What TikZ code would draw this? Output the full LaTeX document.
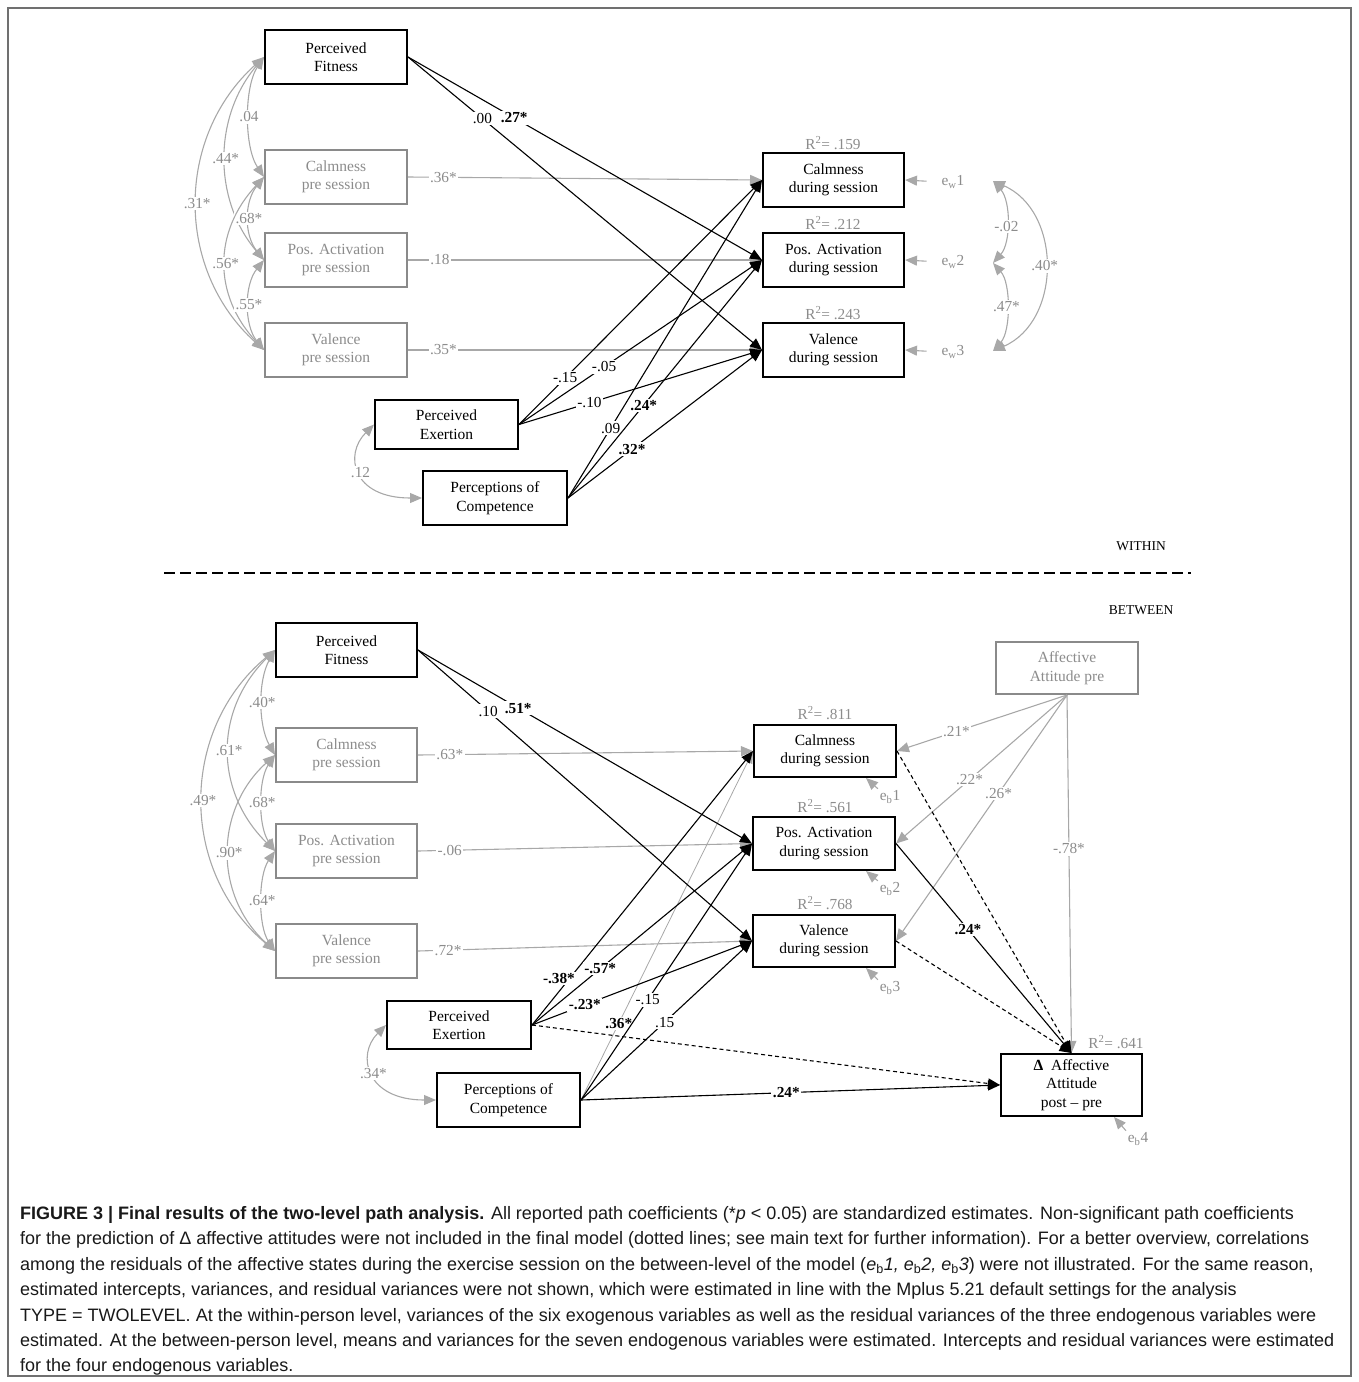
\documentclass[tikz,border=0pt]{standalone}
\usepackage{fontspec}
\setmainfont{Liberation Serif}
\newfontfamily\capfont{Liberation Sans}
\usetikzlibrary{arrows.meta}
\definecolor{gtext}{HTML}{8C8C8C}
\definecolor{gline}{HTML}{A8A8A8}
\definecolor{gbox}{HTML}{8A8A8A}
\definecolor{framec}{HTML}{707070}
\newcommand{\bxfont}{\fontsize{15.5}{18.5}\selectfont}
\newcommand{\lbfont}{\fontsize{15.3}{16}\selectfont}
\newcommand{\cpfont}{\capfont\fontsize{18}{20}\selectfont}
\tikzset{
  bbox/.style={draw=black, line width=2pt, fill=white, align=center, inner sep=0pt, font=\bxfont, text=black},
  gbx/.style={bbox, draw=gbox, text=gtext},
  sz/.style 2 args={minimum width=#1, minimum height=#2},
  blk/.style={draw=black, line width=1.1pt, -{Triangle[length=12pt,width=10pt]}},
  gry/.style={draw=gline, line width=1.1pt, -{Triangle[length=12pt,width=10pt]}},
  cor/.style={draw=gline, line width=1.1pt, {Triangle[length=12pt,width=10pt]}-{Triangle[length=12pt,width=10pt]}},
  dsh/.style={blk, dash pattern=on 4pt off 3pt},
  lbl/.style={fill=white, inner sep=1.5pt, font=\lbfont, text=black},
  glbl/.style={lbl, text=gtext},
  blbl/.style={lbl, font=\lbfont\bfseries},
  etxt/.style={font=\lbfont, text=gtext, inner sep=1pt},
  captxt/.style={font=\cpfont, text=black!90, inner sep=0pt, anchor=base west},
  lvl/.style={font=\fontsize{13.5}{15}\selectfont, text=black}
}
\begin{document}
\begin{tikzpicture}[x=1pt,y=-1pt]
\useasboundingbox (0,0) rectangle (1358,1382);
\draw[framec, line width=1.5pt] (8,8) rectangle (1351,1376);

% ================= WITHIN =================
\node[bbox, sz={142}{54}] (pf1) at (336,57) {Perceived\\Fitness};
\node[gbx, sz={142}{54}] (cp1) at (336,177) {Calmness\\pre session};
\node[gbx, sz={142}{54}] (ap1) at (336,260) {Pos. Activation\\pre session};
\node[gbx, sz={142}{54}] (vp1) at (336,350) {Valence\\pre session};
\node[bbox, sz={141}{54}] (cd1) at (833.5,180) {Calmness\\during session};
\node[bbox, sz={141}{54}] (ad1) at (833.5,260) {Pos. Activation\\during session};
\node[bbox, sz={141}{54}] (vd1) at (833.5,350) {Valence\\during session};
\node[bbox, sz={143}{49}] (ex1) at (446.5,424.5) {Perceived\\Exertion};
\node[bbox, sz={144}{54}] (co1) at (495,498) {Perceptions of\\Competence};

\node[etxt] (r1a) at (833,143) {R\textsuperscript{2}= .159};
\node[etxt] (r1b) at (833,223) {R\textsuperscript{2}= .212};
\node[etxt] (r1c) at (833,313) {R\textsuperscript{2}= .243};

\node[etxt] (ew1) at (953,182) {e\textsubscript{w}1};
\node[etxt] (ew2) at (953,262) {e\textsubscript{w}2};
\node[etxt] (ew3) at (953,352) {e\textsubscript{w}3};
\coordinate (ew1r) at (993,181);
\coordinate (ew2r) at (993,263);
\coordinate (ew3r) at (993,351);

% correlations among exogenous (within)
\draw[cor] (pf1.west) .. controls +(-20,30) and +(-20,-30) .. node[glbl,pos=.5]{.04} (cp1.west);
\draw[cor] (pf1.west) .. controls +(-51,60) and +(-51,-60) .. node[glbl,pos=.5]{.44*} (ap1.west);
\draw[cor] (pf1.west) .. controls +(-89,80) and +(-89,-80) .. node[glbl,pos=.5]{.31*} (vp1.west);
\draw[cor] (cp1.west) .. controls +(-20,25) and +(-20,-25) .. node[glbl,pos=.5]{.68*} (ap1.west);
\draw[cor] (cp1.west) .. controls +(-51,55) and +(-51,-55) .. node[glbl,pos=.5]{.56*} (vp1.west);
\draw[cor] (ap1.west) .. controls +(-20,25) and +(-20,-25) .. node[glbl,pos=.5]{.55*} (vp1.west);
\draw[cor] (ex1.west) .. controls +(-30,30) and +(-70,0) .. node[glbl,pos=.5]{.12} (co1.west);

% pre -> during
\draw[gry] (cp1.east) -- node[glbl,pos=.10]{.36*} (cd1.west);
\draw[gry] (ap1.east) -- node[glbl,pos=.09]{.18} (ad1.west);
\draw[gry] (vp1.east) -- node[glbl,pos=.10]{.35*} (vd1.west);

% residuals
\draw[gry, shorten <=14pt] (ew1.west) -- (cd1.east);
\draw[gry, shorten <=14pt] (ew2.west) -- (ad1.east);
\draw[gry, shorten <=14pt] (ew3.west) -- (vd1.east);
\draw[cor] (ew1r) .. controls +(18,20) and +(18,-20) .. node[glbl,pos=.55]{-.02} (ew2r);
\draw[cor] (ew2r) .. controls +(18,20) and +(18,-20) .. node[glbl,pos=.5]{.47*} (ew3r);
\draw[cor] (ew1r) .. controls +(69,30) and +(69,-30) .. node[glbl,pos=.5]{.40*} (ew3r);

% black paths
\draw[blk] (pf1.east) -- node[lbl,pos=.21]{.00} (vd1.west);
\draw[blk] (pf1.east) -- node[blbl,pos=.30]{.27*} (ad1.west);
\draw[blk] (ex1.east) -- node[lbl,pos=.19]{-.15} (cd1.west);
\draw[blk] (ex1.east) -- node[lbl,pos=.35]{-.05} (ad1.west);
\draw[blk] (ex1.east) -- node[lbl,pos=.29]{-.10} (vd1.west);
\draw[blk] (co1.east) -- node[lbl,pos=.22]{.09} (cd1.west);
\draw[blk] (co1.east) -- node[blbl,pos=.39]{.24*} (ad1.west);
\draw[blk] (co1.east) -- node[blbl,pos=.33]{.32*} (vd1.west);

% ================= separator =================
\node[lvl] (within) at (1141,546) {WITHIN};
\node[lvl] (between) at (1141,610) {BETWEEN};
\draw[black, line width=2.5pt, dash pattern=on 11pt off 5pt] (164,573) -- (1191,573);

% ================= BETWEEN =================
\node[bbox, sz={141}{54}] (pf2) at (346.5,650) {Perceived\\Fitness};
\node[gbx, sz={141}{54}] (cp2) at (346.5,755) {Calmness\\pre session};
\node[gbx, sz={141}{54}] (ap2) at (346.5,851) {Pos. Activation\\pre session};
\node[gbx, sz={141}{54}] (vp2) at (346.5,951) {Valence\\pre session};
\node[bbox, sz={142}{52}] (cd2) at (825,751) {Calmness\\during session};
\node[bbox, sz={142}{53}] (ad2) at (824,843.5) {Pos. Activation\\during session};
\node[bbox, sz={142}{52}] (vd2) at (824,941) {Valence\\during session};
\node[bbox, sz={144}{48}] (ex2) at (459,1025) {Perceived\\Exertion};
\node[bbox, sz={143}{54}] (co2) at (508.5,1100) {Perceptions of\\Competence};
\node[gbx, sz={142}{52}] (aap) at (1067,668) {Affective\\Attitude pre};
\node[bbox, sz={141}{62}] (dlt) at (1071.5,1085) {\textbf{Δ}\ \ Affective\\Attitude\\post -- pre};

\node[etxt] (r2a) at (825,713) {R\textsuperscript{2}= .811};
\node[etxt] (r2b) at (825,806) {R\textsuperscript{2}= .561};
\node[etxt] (r2c) at (825,903) {R\textsuperscript{2}= .768};
\node[etxt] (r2d) at (1116,1042) {R\textsuperscript{2}= .641};

\node[etxt] (eb1) at (890,797) {e\textsubscript{b}1};
\node[etxt] (eb2) at (890,889) {e\textsubscript{b}2};
\node[etxt] (eb3) at (890,988) {e\textsubscript{b}3};
\node[etxt] (eb4) at (1138,1139) {e\textsubscript{b}4};

% correlations among exogenous (between)
\draw[cor] (pf2.west) .. controls +(-17,30) and +(-17,-30) .. node[glbl,pos=.5]{.40*} (cp2.west);
\draw[cor] (pf2.west) .. controls +(-61,60) and +(-61,-60) .. node[glbl,pos=.5]{.61*} (ap2.west);
\draw[cor] (pf2.west) .. controls +(-96,80) and +(-96,-80) .. node[glbl,pos=.5]{.49*} (vp2.west);
\draw[cor] (cp2.west) .. controls +(-17,25) and +(-17,-25) .. node[glbl,pos=.5]{.68*} (ap2.west);
\draw[cor] (cp2.west) .. controls +(-61,55) and +(-61,-55) .. node[glbl,pos=.5]{.90*} (vp2.west);
\draw[cor] (ap2.west) .. controls +(-17,25) and +(-17,-25) .. node[glbl,pos=.5]{.64*} (vp2.west);
\draw[cor] (ex2.west) .. controls +(-30,30) and +(-70,0) .. node[glbl,pos=.5]{.34*} (co2.west);

% pre -> during
\draw[gry] (cp2.east) -- node[glbl,pos=.095]{.63*} (cd2.west);
\draw[gry] (ap2.east) -- node[glbl,pos=.095]{-.06} (ad2.west);
\draw[gry] (vp2.east) -- node[glbl,pos=.09]{.72*} (vd2.west);

% residual arrows
\draw[gry, shorten <=1pt] (eb1.north west) -- ([xshift=-31pt]cd2.south east);
\draw[gry, shorten <=1pt] (eb2.north west) -- ([xshift=-30pt]ad2.south east);
\draw[gry, shorten <=1pt] (eb3.north west) -- ([xshift=-30pt]vd2.south east);
\draw[gry, shorten <=1pt] (eb4.north west) -- ([xshift=-29pt]dlt.south east);

% affective attitude pre
\draw[gry] (aap.south) -- node[glbl,pos=.65]{.21*} (cd2.east);
\draw[gry] (aap.south) -- node[glbl,pos=.57]{.22*} (ad2.east);
\draw[gry] (aap.south) -- node[glbl,pos=.40]{.26*} (vd2.east);
\draw[gry] (aap.south) -- node[glbl,pos=.43]{-.78*} (dlt.north);

% competence -> calmness (grey)
\draw[gry, line width=0.8pt] (co2.east) -- node[blbl,pos=.22]{.36*} (cd2.west);

% black paths
\draw[blk] (pf2.east) -- node[lbl,pos=.21]{.10} (vd2.west);
\draw[blk] (pf2.east) -- node[blbl,pos=.30]{.51*} (ad2.west);
\draw[blk] (ex2.east) -- node[blbl,pos=.14,xshift=-4pt,yshift=8pt]{-.38*} (cd2.west);
\draw[blk] (ex2.east) -- node[blbl,pos=.31]{-.57*} (ad2.west);
\draw[blk] (ex2.east) -- node[blbl,pos=.24]{-.23*} (vd2.west);
\draw[blk] (co2.east) -- node[lbl,pos=.39]{-.15} (ad2.west);
\draw[blk] (co2.east) -- node[lbl,pos=.49]{.15} (vd2.west);

% to delta
\draw[dsh] (cd2.east) -- (dlt.north);
\draw[dsh] (vd2.east) -- (dlt.north);
\draw[dsh] (ex2.east) -- (dlt.west);
\draw[blk] (ad2.east) -- node[blbl,pos=.41]{.24*} (dlt.north);
\draw[blk] (co2.east) -- node[blbl,pos=.49]{.24*} (dlt.west);

% ================= caption =================
\node[captxt] (cap1) at (20,1219) {\textbf{FIGURE 3 | Final results of the two-level path analysis.} All reported path coefficients (*\textit{p} < 0.05) are standardized estimates. Non-significant path coefficients};
\node[captxt] (cap2) at (20,1244.5) {for the prediction of Δ affective attitudes were not included in the final model (dotted lines; see main text for further information). For a better overview, correlations};
\node[captxt] (cap3) at (20,1270) {among the residuals of the affective states during the exercise session on the between-level of the model (\textit{e}\textsubscript{b}\textit{1, e}\textsubscript{b}\textit{2, e}\textsubscript{b}\textit{3}) were not illustrated. For the same reason,};
\node[captxt] (cap4) at (20,1295.5) {estimated intercepts, variances, and residual variances were not shown, which were estimated in line with the Mplus 5.21 default settings for the analysis};
\node[captxt] (cap5) at (20,1321) {TYPE = TWOLEVEL. At the within-person level, variances of the six exogenous variables as well as the residual variances of the three endogenous variables were};
\node[captxt] (cap6) at (20,1346.5) {estimated. At the between-person level, means and variances for the seven endogenous variables were estimated. Intercepts and residual variances were estimated};
\node[captxt] (cap7) at (20,1371) {for the four endogenous variables.};
\end{tikzpicture}
\end{document}
